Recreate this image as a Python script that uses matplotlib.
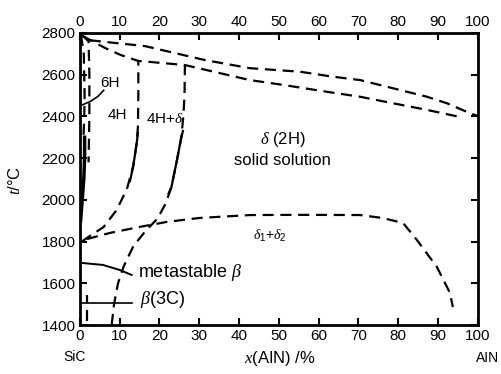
import matplotlib
matplotlib.use("Agg")
import matplotlib.pyplot as plt

plt.rcParams['font.family'] = ['Liberation Sans', 'DejaVu Sans']
plt.rcParams['mathtext.fontset'] = 'custom'
plt.rcParams['mathtext.rm'] = 'Liberation Sans'
plt.rcParams['mathtext.it'] = 'Liberation Serif:italic'

# ---- data (x in % AlN, T in °C) ----
liq_x = [2.5, 8.8, 16.3, 31.4, 42.7, 55.3, 63.6, 70.4, 78.6, 87.2, 92.2, 98.0, 100]
liq_t = [2765, 2752, 2737, 2670, 2631, 2614, 2590, 2574, 2535, 2494, 2463, 2415, 2402]

sol_x = [0.75, 6.3, 10.3, 14.6, 26.4, 42.7, 51.0, 62.0, 70.4, 78.6, 87.2, 96.0]
sol_t = [2785, 2728, 2694, 2666, 2646, 2574, 2551, 2518, 2494, 2463, 2431, 2395]

h4_x = [0.5, 2.0, 6.0, 9.2, 11.8, 13.4, 14.2, 14.6, 14.7, 14.7]
h4_t = [1800, 1820, 1870, 1950, 2050, 2160, 2260, 2350, 2500, 2666]
h4_solid_x = [12.6, 13.4, 14.2, 14.6]
h4_solid_t = [2090, 2160, 2260, 2320]

h4d_x = [8.0, 8.6, 9.6, 11.0, 13.5, 16.5, 19.5, 21.5, 23.0, 24.4, 25.5, 26.0, 26.3, 26.4]
h4d_t = [1400, 1500, 1600, 1680, 1780, 1850, 1910, 1980, 2060, 2190, 2300, 2400, 2500, 2646]
h4d_solid_x = [22.3, 23.0, 24.4, 25.5, 25.9]
h4d_solid_t = [2030, 2060, 2190, 2300, 2330]

gap_x = [1.8, 7.5, 15.0, 21.8, 30.0, 42.7, 55.0, 70.4, 76.0, 81.2, 84.7, 89.7, 93.0, 93.7]
gap_t = [1812, 1841, 1870, 1894, 1913, 1927, 1928, 1927, 1913, 1889, 1807, 1678, 1553, 1486]

h6a_x = [0.3, 1.0, 1.2, 1.1, 0.9]
h6a_t = [2790, 2700, 2500, 2380, 2300]
h6b_x = [0.5, 2.2, 2.4, 2.4, 2.2]
h6b_t = [2790, 2760, 2600, 2400, 2180]
h6s_x = [0.2, 0.6, 1.0, 1.2, 1.2]
h6s_t = [1900, 2000, 2100, 2200, 2300]
h6p_x = [0.6, 2.5, 4.5, 6.0]
h6p_t = [2455, 2470, 2495, 2525]

meta_x = [0.75, 5.8, 10.0, 13.0]
meta_t = [1697, 1688, 1664, 1640]
b3c_x = [0.5, 13.0]
b3c_t = [1505, 1505]
small_x = [1.7, 1.7]
small_t = [1420, 1545]

x_ticks = [0, 10, 20, 30, 40, 50, 60, 70, 80, 90, 100]
y_ticks = [1400, 1600, 1800, 2000, 2200, 2400, 2600, 2800]

fig = plt.figure(figsize=(5.02, 3.74), dpi=100)
ax = fig.add_axes([0.159, 0.131, 0.793, 0.781])
ax.set_xlim(0, 100)
ax.set_ylim(1400, 2800)

dash = (0, (5, 3))
kw = dict(color='black', lw=1.6, linestyle=dash)
ax.plot(liq_x, liq_t, **kw)
ax.plot(sol_x, sol_t, **kw)
ax.plot(h4_x, h4_t, **kw)
ax.plot(h4d_x, h4d_t, **kw)
ax.plot(gap_x, gap_t, **kw)
ax.plot(h6a_x, h6a_t, **kw)
ax.plot(h6b_x, h6b_t, **kw)
ax.plot(small_x, small_t, **kw)
ax.plot(h4_solid_x, h4_solid_t, color='black', lw=1.6)
ax.plot(h4d_solid_x, h4d_solid_t, color='black', lw=1.6)
ax.plot(h6s_x, h6s_t, color='black', lw=2.5)
ax.plot(h6p_x, h6p_t, color='black', lw=1.2)
ax.plot(meta_x, meta_t, color='black', lw=1.4)
ax.plot(b3c_x, b3c_t, color='black', lw=1.2)

for s in ax.spines.values():
    s.set_linewidth(2)
ax.set_xticks(x_ticks)
ax.set_yticks(y_ticks)
ax.tick_params(direction='in', length=5, width=1.5, labelsize=11,
               top=True, right=True, labeltop=True, labelright=False, pad=3)

ax.text(7.5, 2560, '6H', fontsize=11, ha='center', va='center')
ax.text(9.5, 2405, '4H', fontsize=11, ha='center', va='center')
ax.text(21.4, 2385, r'4H+$\delta$', fontsize=11, ha='center', va='center')
ax.text(51, 2290, r'$\delta$ (2H)', fontsize=12, ha='center', va='center')
ax.text(51, 2190, 'solid solution', fontsize=12, ha='center', va='center')
ax.text(47.7, 1825, r'$\delta_1$+$\delta_2$', fontsize=10, ha='center', va='center')
ax.text(14.5, 1652, r'metastable $\beta$', fontsize=13, ha='left', va='center')
ax.text(15, 1520, r'$\beta$(3C)', fontsize=13, ha='left', va='center')

fig.text(75 / 502, 1 - 357 / 374, 'SiC', fontsize=10, ha='center', va='center')
fig.text(488 / 502, 1 - 358 / 374, 'AIN', fontsize=10, ha='center', va='center')
fig.text(280 / 502, 1 - 358 / 374, r'$x$(AIN) /%', fontsize=12, ha='center', va='center')
fig.text(15 / 502, 1 - 180 / 374, r'$t$/°C', fontsize=12, ha='center', va='center', rotation=90)

fig.savefig('out.png', dpi=100)
